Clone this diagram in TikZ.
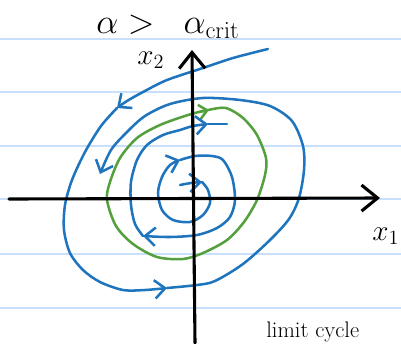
\documentclass[tikz,border=0pt]{standalone}
\usepackage{tikz}
\usetikzlibrary{arrows.meta}

\definecolor{ruleblue}{RGB}{200,224,250}
\definecolor{penblue}{RGB}{30,117,190}
\definecolor{pengreen}{RGB}{84,160,62}

\tikzset{
  ruled/.style={ruleblue, line width=1pt},
  axis/.style={black, line width=2.2pt, line cap=round, line join=round,
    -{Straight Barb[length=4mm,width=6.5mm]}},
  trajline/.style={penblue, line width=1.8pt, line cap=round, line join=round},
  traj/.style={trajline, -{Straight Barb[length=2.6mm,width=4.6mm]}},
  limitcycle/.style={pengreen, line width=1.8pt, line cap=round, line join=round},
  hand/.style={inner sep=0pt, font=\fontsize{24}{28}\selectfont}
}

\begin{document}
\begin{tikzpicture}[x=0.025cm, y=-0.025cm]
\useasboundingbox (0,0) rectangle (401,343);

\foreach \ry in {39,92,146,199,254,308}
  \draw[ruled] (0,\ry) -- (401,\ry);

\node[hand, anchor=base west] (title) at (96,33)
  {$\alpha > \;\;\alpha_{\mathrm{crit}}$};
\node[hand, anchor=base west, font=\fontsize{22}{26}\selectfont] (xtwo) at (137,64) {$x_2$};
\node[hand, anchor=base west, font=\fontsize{20}{24}\selectfont] (xone) at (372,240) {$x_1$};
\node[hand, anchor=base west, font=\fontsize{16}{19}\selectfont] (note) at (266,337) {limit cycle};

% limit cycle
\draw[limitcycle] plot[smooth cycle] coordinates {
  (107,200) (116,226) (133,244) (157,257) (183,259) (203,253) (227,240)
  (244,222) (257,200) (265,175) (266,158) (257,135) (243,118) (226,108)
  (208,110) (188,115) (160,125) (137,138) (120,158) (110,182)};
\draw[limitcycle, -{Straight Barb[length=2mm,width=3.6mm]}] (199,112) -- (209,110);

% outer trajectory
\draw[traj] plot[smooth] coordinates {
  (268,49) (233,58) (203,68) (167,80) (143,92) (127,101) (117,108)};
\draw[traj] plot[smooth] coordinates {
  (117,108) (101,126) (85,152) (72,180) (65,205) (64,230) (70,253)
  (83,270) (100,282) (123,290) (145,290) (167,288)};
\draw[traj] plot[smooth] coordinates {
  (167,288) (197,285) (215,281) (243,264) (270,240) (289,219) (299,198)
  (304,170) (303,146) (292,121) (270,106) (240,100) (203,98) (170,104)
  (145,116) (127,132) (111,150) (100,174)};

% inner trajectory
\draw[traj] plot[smooth] coordinates {(180,185) (191,183) (202,182)};
\draw[traj] plot[smooth] coordinates {
  (202,182) (208,190) (210,203) (203,215) (190,222) (173,220) (162,210)
  (158,193) (162,177) (170,165) (180,160)};
\draw[traj] plot[smooth] coordinates {
  (180,160) (195,156) (212,156) (223,160) (232,177) (235,200) (230,217)
  (217,228) (197,235) (170,237) (143,236)};
\draw[traj] plot[smooth] coordinates {
  (143,236) (135,224) (131,205) (131,182) (137,160) (147,145) (163,135)
  (180,130) (193,126) (208,124)};
\draw[trajline] (208,124) -- (227,124);

% axes
\coordinate (xmin) at (9,199);
\coordinate (xmax) at (380,198);
\coordinate (ymin) at (195,343);
\coordinate (ymax) at (192,50);
\draw[axis] (xmin) -- (xmax);
\draw[axis] (ymin) -- (ymax);
\end{tikzpicture}
\end{document}
